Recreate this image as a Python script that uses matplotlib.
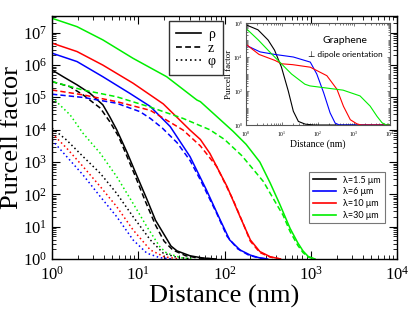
import numpy as np
import matplotlib
matplotlib.use("Agg")
import matplotlib.pyplot as plt
from matplotlib.ticker import LogLocator, LogFormatterMathtext, NullFormatter

plt.rcParams['font.family'] = ['Liberation Serif', 'DejaVu Serif']
plt.rcParams['mathtext.fontset'] = 'stix'

COLORS = {'1.5': '#000000', '6': '#0000ff', '10': '#ff0000', '30': '#00ee00'}
LAM_LABELS = {'1.5': 'λ=1.5 μm', '6': 'λ=6 μm', '10': 'λ=10 μm', '30': 'λ=30 μm'}

# main panel: log10(distance nm) / log10(Purcell factor)
rho_15_x = [0, .13, .29, .44, .59, .67, .75, .87, .98, 1.1, 1.2, 1.29, 1.38, 1.45, 1.6, 1.75, 1.9]
rho_15_y = [5.85, 5.64, 5.39, 5.13, 4.77, 4.4, 4.0, 3.3, 2.6, 1.85, 1.2, 0.8, 0.4, 0.25, 0.1, 0.03, 0.0]
z_15_x = [0, .21, .36, .56, .67, .77, .85, .96, 1.08, 1.2, 1.3, 1.4, 1.55, 1.7, 1.9]
z_15_y = [5.49, 5.33, 5.08, 4.67, 4.25, 3.8, 3.3, 2.6, 1.8, 1.05, 0.55, 0.28, 0.1, 0.03, 0.0]
phi_15_x = [0, .17, .36, .56, .75, .94, 1.14, 1.29, 1.45, 1.6]
phi_15_y = [4.05, 3.68, 3.17, 2.65, 2.03, 1.31, 0.59, 0.18, 0.05, 0.01]

rho_6_x = [0, .29, .59, .9, 1.14, 1.37, 1.6, 1.79, 1.95, 2.06, 2.18, 2.3, 2.4, 2.5]
rho_6_y = [6.37, 6.11, 5.64, 5.13, 4.72, 4.1, 3.17, 2.14, 1.21, 0.59, 0.28, 0.12, 0.04, 0.0]
z_6_x = [0, .36, .75, 1.02, 1.14, 1.28, 1.45, 1.6, 1.72, 1.91, 2.03, 2.15, 2.28, 2.4, 2.5]
z_6_y = [5.1, 5.0, 4.82, 4.56, 4.35, 4.05, 3.6, 3.05, 2.45, 1.41, 0.7, 0.32, 0.12, 0.03, 0.0]
phi_6_x = [0, .17, .36, .56, .75, .94, 1.1, 1.25, 1.4]
phi_6_y = [3.68, 3.17, 2.6, 1.93, 1.31, 0.59, 0.18, 0.04, 0.0]

rho_10_x = [0, .29, .59, .94, 1.29, 1.6, 1.72, 1.83, 2.03, 2.18, 2.3, 2.41, 2.53, 2.65]
rho_10_y = [6.68, 6.42, 6.0, 5.44, 4.8, 3.99, 3.7, 3.27, 2.24, 1.31, 0.59, 0.23, 0.07, 0.0]
z_10_x = [0, .36, .75, 1.14, 1.52, 1.72, 1.91, 2.1, 2.2, 2.3, 2.41, 2.53, 2.65]
z_10_y = [5.23, 5.08, 4.87, 4.6, 3.99, 3.5, 2.86, 1.83, 1.2, 0.55, 0.2, 0.06, 0.0]
phi_10_x = [0, .17, .36, .56, .75, .94, 1.14, 1.3, 1.45]
phi_10_y = [3.89, 3.43, 2.86, 2.24, 1.62, 0.9, 0.28, 0.07, 0.01]

rho_30_x = [0, .29, .59, .94, 1.33, 1.68, 1.72, 2.1, 2.25, 2.41, 2.53, 2.64, 2.76, 2.85, 2.91, 2.97, 3.05]
rho_30_y = [7.45, 7.19, 6.78, 6.21, 5.64, 4.92, 4.87, 3.95, 3.55, 3.0, 2.35, 1.7, 0.95, 0.5, 0.25, 0.08, 0.0]
z_30_x = [0, .36, .75, 1.14, 1.52, 1.83, 2.0, 2.2, 2.45, 2.62, 2.68, 2.76, 2.85, 2.91, 2.97, 3.05]
z_30_y = [5.49, 5.23, 5.02, 4.7, 4.35, 4.0, 3.7, 3.2, 2.4, 1.62, 1.35, 0.85, 0.42, 0.2, 0.06, 0.0]
phi_30_x = [0, .21, .36, .56, .75, .94, 1.1, 1.25, 1.33, 1.5, 1.65]
phi_30_y = [5.0, 4.46, 3.89, 3.27, 2.55, 1.72, 1.0, 0.38, 0.18, 0.04, 0.0]

# inset (graphene, perpendicular dipole)
ins_15_x = [0, .34, .62, .8, .99, 1.18, 1.32, 1.46, 1.65, 1.9, 4.0]
ins_15_y = [5.9, 5.6, 5.0, 4.4, 3.41, 2.0, 0.81, 0.21, 0.05, 0.0, 0.0]
ins_6_x = [0, .4, .81, 1.32, 1.79, 1.97, 2.16, 2.34, 2.48, 2.6, 4.0]
ins_6_y = [4.7, 4.3, 4.15, 4.0, 3.7, 3.0, 1.9, 0.71, 0.11, 0.0, 0.0]
ins_10_x = [0, .37, .81, 1.0, 1.3, 1.79, 2.25, 2.53, 2.71, 2.9, 3.08, 3.2, 4.0]
ins_10_y = [4.76, 4.15, 3.8, 3.6, 3.55, 3.4, 2.9, 2.1, 1.1, 0.31, 0.07, 0.0, 0.0]
ins_30_x = [0, .35, .71, .99, 1.27, 1.64, 1.78, 2.7, 3.17, 3.45, 3.64, 3.78, 3.9, 4.0]
ins_30_y = [5.7, 5.0, 4.2, 3.6, 3.0, 2.4, 2.3, 2.05, 1.71, 1.11, 0.51, 0.13, 0.0, 0.0]

main_series = [
    ('1.5', rho_15_x, rho_15_y, z_15_x, z_15_y, phi_15_x, phi_15_y),
    ('6', rho_6_x, rho_6_y, z_6_x, z_6_y, phi_6_x, phi_6_y),
    ('10', rho_10_x, rho_10_y, z_10_x, z_10_y, phi_10_x, phi_10_y),
    ('30', rho_30_x, rho_30_y, z_30_x, z_30_y, phi_30_x, phi_30_y),
]
inset_series = [('1.5', ins_15_x, ins_15_y), ('6', ins_6_x, ins_6_y),
                ('10', ins_10_x, ins_10_y), ('30', ins_30_x, ins_30_y)]

DASH = (0, (3.5, 2))
DOT = (0, (1, 1.8))


def pw(v):
    return 10 ** np.asarray(v, dtype=float)


def style_log_axis(ax, size, major_len, minor_len, ybase=10):
    ax.set_xscale('log')
    ax.set_yscale('log')
    ax.xaxis.set_major_locator(LogLocator(base=10, numticks=20))
    ax.xaxis.set_minor_locator(LogLocator(base=10, subs=np.arange(2, 10), numticks=20))
    ax.yaxis.set_major_locator(LogLocator(base=ybase, numticks=20))
    ax.yaxis.set_minor_locator(LogLocator(base=10, subs=np.arange(1, 10) if ybase != 10 else np.arange(2, 10), numticks=40))
    ax.xaxis.set_major_formatter(LogFormatterMathtext())
    ax.yaxis.set_major_formatter(LogFormatterMathtext())
    ax.xaxis.set_minor_formatter(NullFormatter())
    ax.yaxis.set_minor_formatter(NullFormatter())
    ax.tick_params(which='both', direction='in', top=True, right=True, labelsize=size)
    ax.tick_params(which='major', length=major_len)
    ax.tick_params(which='minor', length=minor_len)


fig = plt.figure(figsize=(4.15, 3.12), dpi=100)
ax = fig.add_axes([52 / 415, 1 - 259 / 312, 345 / 415, 243 / 312])

for key, rx, ry, zx, zy, px, py in main_series:
    c = COLORS[key]
    ax.plot(pw(rx), pw(ry), color=c, lw=1.1, ls='-')
    ax.plot(pw(zx), pw(zy), color=c, lw=1.1, ls=DASH)
    ax.plot(pw(px), pw(py), color=c, lw=1.1, ls=DOT)

ax.set_xlim(1, 1e4)
ax.set_ylim(1, 10 ** 7.52)
style_log_axis(ax, 12, 6, 3)
ax.tick_params(axis='x', pad=5)
for s in ax.spines.values():
    s.set_linewidth(1.0)
ax.set_xlabel('Distance (nm)', fontsize=19, labelpad=1)
ax.set_ylabel('Purcell factor', fontsize=19, labelpad=0)

# legend for dipole components
h_rho, = ax.plot([], [], color='k', lw=1.2, ls='-')
h_z, = ax.plot([], [], color='k', lw=1.2, ls=DASH)
h_phi, = ax.plot([], [], color='k', lw=1.2, ls=DOT)
leg1 = ax.legend([h_rho, h_z, h_phi], ['ρ', 'z', 'φ'], loc='upper left',
                 bbox_to_anchor=((169 - 52) / 345, (259 - 21) / 243), fontsize=10,
                 frameon=True, fancybox=False, edgecolor='k', handlelength=1.8,
                 handletextpad=0.5, labelspacing=0.05, borderpad=0.5, borderaxespad=0)
leg1.get_frame().set_linewidth(1.0)
ax.add_artist(leg1)

# legend for wavelengths
lam_handles = [ax.plot([], [], color=COLORS[k], lw=1.2)[0] for k in ['1.5', '6', '10', '30']]
leg2 = ax.legend(lam_handles, [LAM_LABELS[k] for k in ['1.5', '6', '10', '30']],
                 loc='upper left', bbox_to_anchor=((309 - 52) / 345, (259 - 172) / 243),
                 prop={'family': ['Lato', 'DejaVu Sans'], 'size': 6.5},
                 frameon=True, fancybox=False, edgecolor='#555555', handlelength=2.6,
                 handletextpad=0.8, labelspacing=0.3, borderpad=0.4, borderaxespad=0)
leg2.get_frame().set_linewidth(0.8)

# inset
ins = fig.add_axes([245.7 / 415, 1 - 125 / 312, 144.3 / 415, 102 / 312])
for key, ix, iy in inset_series:
    ins.plot(pw(ix), pw(iy), color=COLORS[key], lw=0.8)
ins.set_xlim(1, 1e4)
ins.set_ylim(1, 1e6)
style_log_axis(ins, 4, 2.5, 1.3, ybase=100)
ins.tick_params(which='both', pad=1, colors='#444444', labelcolor='k', width=0.5)
ins.tick_params(axis='x', pad=3.5)
ins.tick_params(axis='y', pad=2)
for s in ins.spines.values():
    s.set_linewidth(0.8)
    s.set_color('#555555')
ins.set_xlabel('Distance (nm)', fontsize=7, labelpad=0)
ins.set_ylabel('Purcell factor', fontsize=6.5, labelpad=0.5)
ins.text(0.69, 0.83, 'Graphene', transform=ins.transAxes, ha='center', va='center',
         fontsize=7.5, family=['Lato', 'DejaVu Sans'])
ins.text(0.69, 0.69, '⊥ dipole orientation', transform=ins.transAxes, ha='center', va='center',
         fontsize=6, family=['Lato', 'DejaVu Sans'])

fig.savefig('out.png', dpi=100)
